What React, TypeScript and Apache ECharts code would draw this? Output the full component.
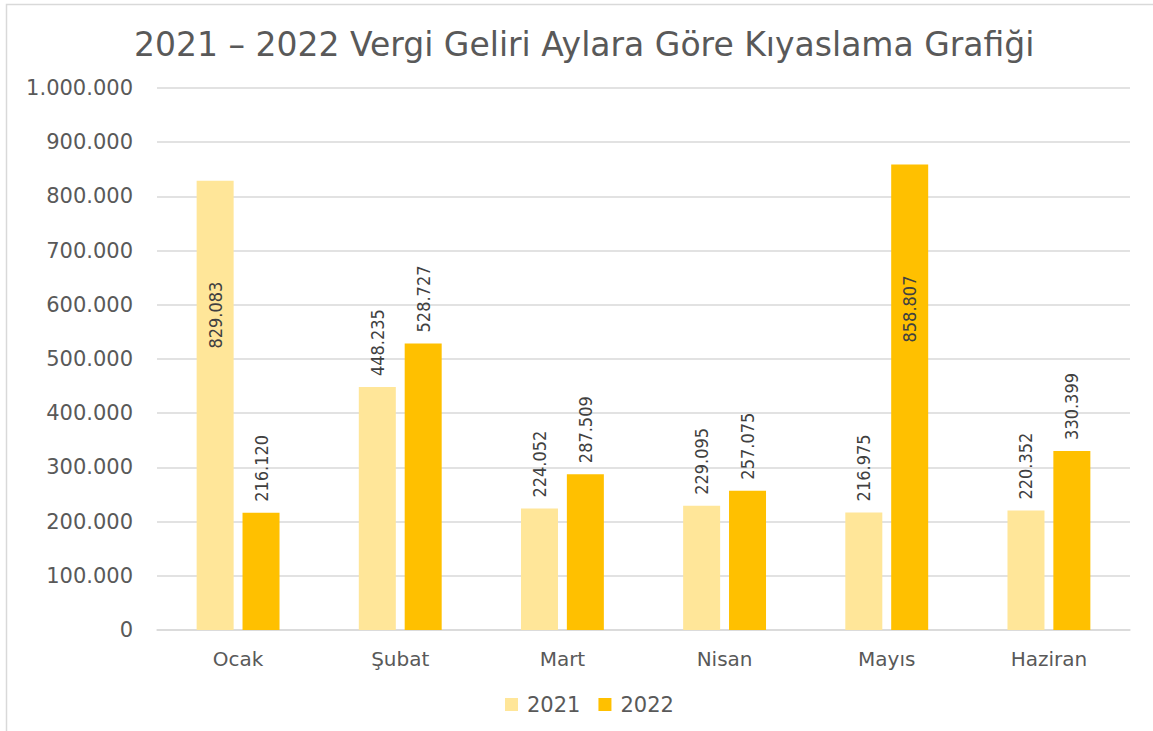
import React, { useEffect, useRef } from "react";
import * as echarts from "echarts";

const categories = ["Ocak", "Şubat", "Mart", "Nisan", "Mayıs", "Haziran"];
const values2021 = [829083, 448235, 224052, 229095, 216975, 220352];
const values2022 = [216120, 528727, 287509, 257075, 858807, 330399];
const seriesNames = ["2021", "2022"];
const titleText = "2021 – 2022 Vergi Geliri Aylara Göre Kıyaslama Grafiği";

const fmt = (v: number) => {
  const s = Math.round(v).toString();
  return s.replace(/\B(?=(\d{3})+(?!\d))/g, ".");
};

const labelFont = "'Liberation Sans Narrow', 'DejaVu Sans Condensed', sans-serif";
const uiFont = "'DejaVu Sans', sans-serif";

const buildData = (vals: number[]) =>
  vals.map((v) => {
    if (v > 800000) {
      return {
        value: v,
        label: {
          position: "insideTop",
          distance: v > 850000 ? 111 : 101,
          align: "right",
          verticalAlign: "middle",
        },
      };
    }
    return { value: v };
  });

export default function App() {
  const ref = useRef<HTMLDivElement>(null);
  useEffect(() => {
    if (!ref.current) return;
    const chart = echarts.init(ref.current, null, { renderer: "svg" });
    const baseLabel = {
      show: true,
      rotate: 90,
      position: "top",
      distance: 11,
      align: "left",
      verticalAlign: "middle",
      fontFamily: labelFont,
      fontSize: 18,
      color: "#404040",
      formatter: (p: any) => fmt(p.value),
    };
    chart.setOption({
      animation: false,
      backgroundColor: "#ffffff",
      title: {
        text: titleText,
        left: 134,
        top: 28,
        padding: 0,
        textStyle: {
          fontFamily: uiFont,
          fontSize: 33,
          fontWeight: "normal",
          color: "#595959",
        },
      },
      graphic: [
        {
          type: "rect",
          shape: { x: 6.5, y: 4.5, width: 1200, height: 800 },
          style: { fill: "none", stroke: "#d9d9d9", lineWidth: 1.5 },
          silent: true,
        },
      ],
      legend: {
        data: seriesNames,
        bottom: 16,
        left: 505,
        itemWidth: 13,
        itemHeight: 13,
        itemGap: 18,
        icon: "rect",
        padding: 0,
        textStyle: { fontFamily: uiFont, fontSize: 21, color: "#595959", padding: [0, 0, 0, 4] },
      },
      grid: { left: 157, right: 23, top: 88, bottom: 101, containLabel: false },
      xAxis: {
        type: "category",
        data: categories,
        axisLine: { lineStyle: { color: "#d9d9d9", width: 1.5 } },
        axisTick: { show: false },
        axisLabel: {
          fontFamily: uiFont,
          fontSize: 20,
          color: "#595959",
          margin: 19,
        },
      },
      yAxis: {
        type: "value",
        min: 0,
        max: 1000000,
        interval: 100000,
        axisLine: { show: false },
        axisTick: { show: false },
        splitLine: { lineStyle: { color: "#d9d9d9", width: 1.5 } },
        axisLabel: {
          fontFamily: uiFont,
          fontSize: 21,
          color: "#595959",
          margin: 24,
          formatter: (v: number) => fmt(v),
        },
      },
      series: [
        {
          name: seriesNames[0],
          type: "bar",
          data: buildData(values2021),
          barWidth: 37,
          barGap: "24%",
          itemStyle: { color: "#FFE699" },
          label: baseLabel,
        },
        {
          name: seriesNames[1],
          type: "bar",
          data: buildData(values2022),
          barWidth: 37,
          barGap: "24%",
          itemStyle: { color: "#FFC000" },
          label: baseLabel,
        },
      ],
    });
    return () => chart.dispose();
  }, []);
  return (
    <div
      ref={ref}
      style={{ position: "fixed", left: 0, top: 0, width: 1153, height: 731 }}
    />
  );
}
